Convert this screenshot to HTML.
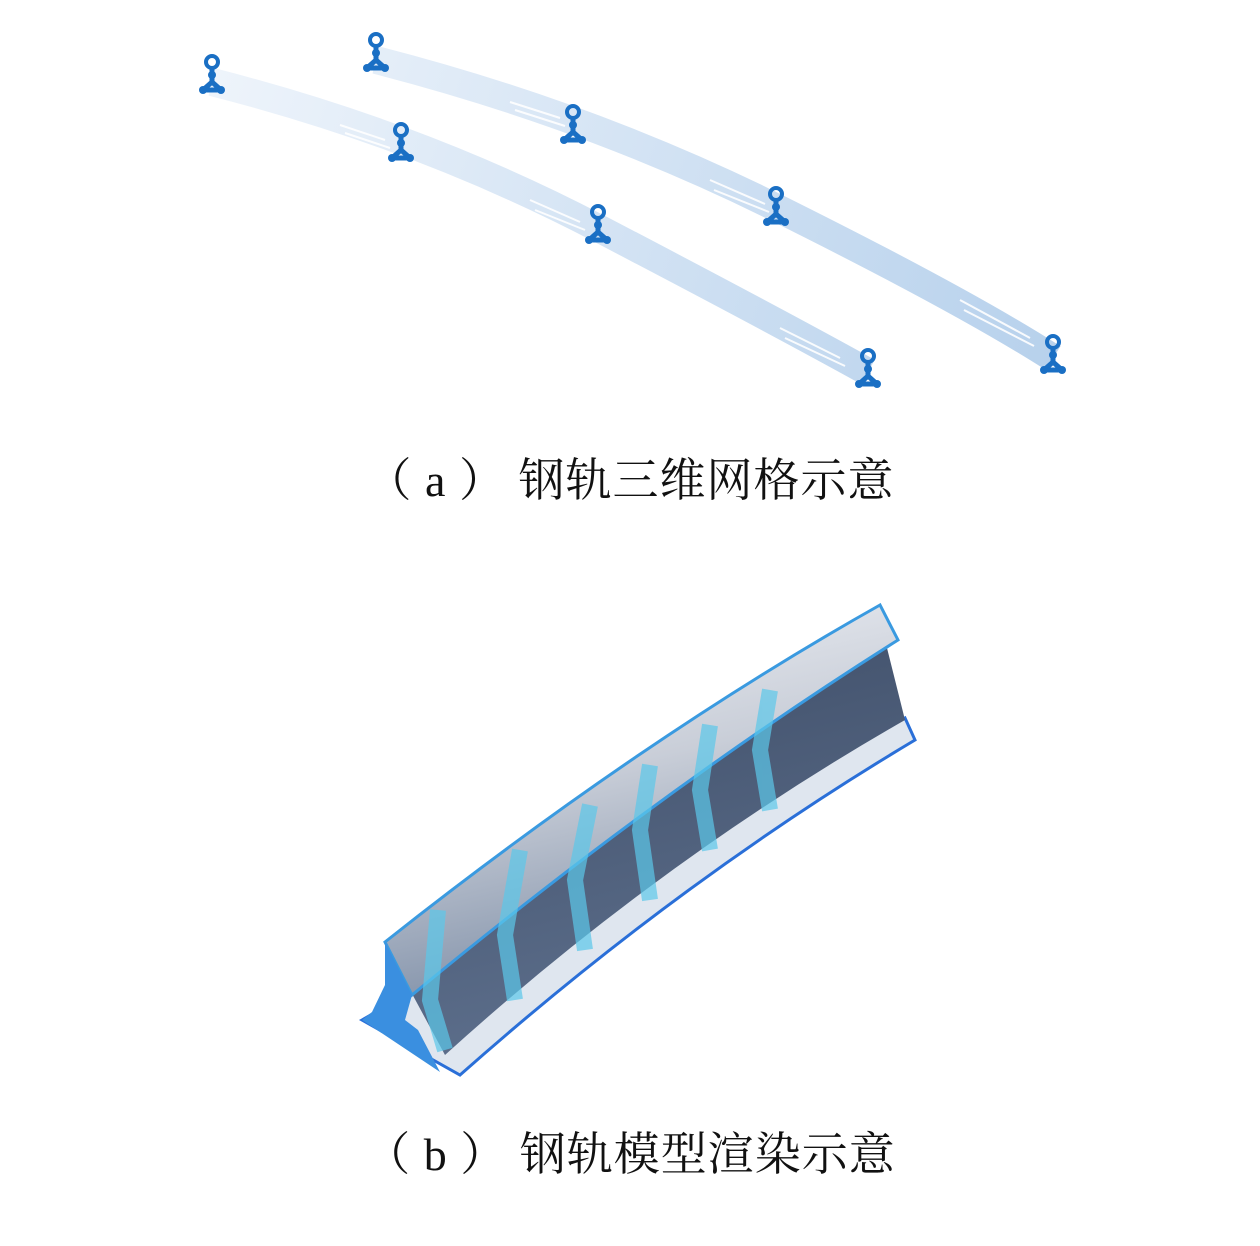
<!DOCTYPE html>
<html><head><meta charset="utf-8"><style>
body{margin:0;background:#fff;width:1260px;height:1246px;position:relative;overflow:hidden}
.cap{position:absolute;left:0;width:1260px;text-align:center;font-family:"Liberation Serif","Noto Serif CJK SC",serif;font-size:46px;color:#111;letter-spacing:1px}
</style></head><body>
<svg width="1260" height="1246" style="position:absolute;left:0;top:0">
<defs>
<linearGradient id="band" gradientUnits="userSpaceOnUse" x1="212" y1="70" x2="1050" y2="370"><stop offset="0" stop-color="#eef4fb"/><stop offset="1" stop-color="#b7d1ec"/></linearGradient>
<g id="prof" fill="#1a6fc4" stroke="#1a6fc4">
<circle cx="0" cy="-14" r="6" fill="none" stroke-width="4"/>
<line x1="0" y1="-8" x2="0" y2="6" stroke-width="5"/>
<circle cx="0" cy="-1" r="4" stroke="none"/>
<path d="M0,6 L-9,14 M0,6 L9,14 M-9,14 L9,14" stroke-width="5" fill="none"/>
<circle cx="-9" cy="14" r="4" stroke="none"/><circle cx="9" cy="14" r="4" stroke="none"/>
</g>
<linearGradient id="head" x1="0" y1="0" x2="0.3" y2="1"><stop offset="0" stop-color="#f4f6fa"/><stop offset="0.5" stop-color="#c9ced8"/><stop offset="1" stop-color="#8090a8"/></linearGradient>
<linearGradient id="web" x1="0" y1="0" x2="0.3" y2="1"><stop offset="0" stop-color="#3d4c66"/><stop offset="1" stop-color="#5d6f8c"/></linearGradient>
</defs>
<!-- top rails -->
<path d="M212,82 Q420,135 598,228 T868,372" fill="none" stroke="url(#band)" stroke-width="28"/>
<path d="M376,60 Q590,115 777,208 T1053,358" fill="none" stroke="url(#band)" stroke-width="28"/>
<g stroke="#fff" stroke-width="2" opacity="0.9">
<line x1="340" y1="125" x2="385" y2="140"/><line x1="345" y1="133" x2="390" y2="148"/>
<line x1="530" y1="200" x2="580" y2="222"/><line x1="535" y1="210" x2="585" y2="230"/>
<line x1="780" y1="328" x2="840" y2="358"/><line x1="785" y1="338" x2="845" y2="366"/>
<line x1="510" y1="102" x2="560" y2="118"/><line x1="515" y1="110" x2="565" y2="126"/>
<line x1="710" y1="180" x2="765" y2="204"/><line x1="714" y1="190" x2="769" y2="212"/>
<line x1="960" y1="300" x2="1030" y2="338"/><line x1="964" y1="310" x2="1034" y2="346"/>
</g>
<use href="#prof" x="212" y="76"/><use href="#prof" x="401" y="144"/><use href="#prof" x="598" y="226"/><use href="#prof" x="868" y="370"/>
<use href="#prof" x="376" y="54"/><use href="#prof" x="573" y="126"/><use href="#prof" x="776" y="208"/><use href="#prof" x="1053" y="356"/>
<!-- bottom rail -->
<path d="M362,1020 Q640,860 905,718 L915,740 Q680,880 460,1075 Z" fill="#dfe6ef" stroke="#2a6fd8" stroke-width="3"/>
<path d="M410,990 Q650,800 885,640 L905,720 Q660,860 445,1055 Z" fill="url(#web)"/>
<path d="M385,942 Q640,740 880,605 L898,640 Q660,790 412,995 Z" fill="url(#head)" stroke="#3a9ae0" stroke-width="3"/>
<g stroke="#5cc8ea" stroke-width="16" fill="none" opacity="0.7">
<path d="M438,910 L430,1000 L445,1050"/><path d="M520,850 L505,935 L515,1000"/>
<path d="M590,805 L575,880 L585,950"/><path d="M650,765 L640,830 L650,900"/>
<path d="M710,725 L700,790 L710,850"/><path d="M770,690 L760,750 L770,810"/>
</g>
<path d="M385,942 L412,995 L405,1020 L418,1030 L440,1072 L362,1020 L372,1012 L385,985 Z" fill="#3a8fe0"/>
</svg>
<div class="cap" style="top:444px">（ a ） 钢轨三维网格示意</div>
<div class="cap" style="top:1118px">（ b ） 钢轨模型渲染示意</div>
</body></html>
